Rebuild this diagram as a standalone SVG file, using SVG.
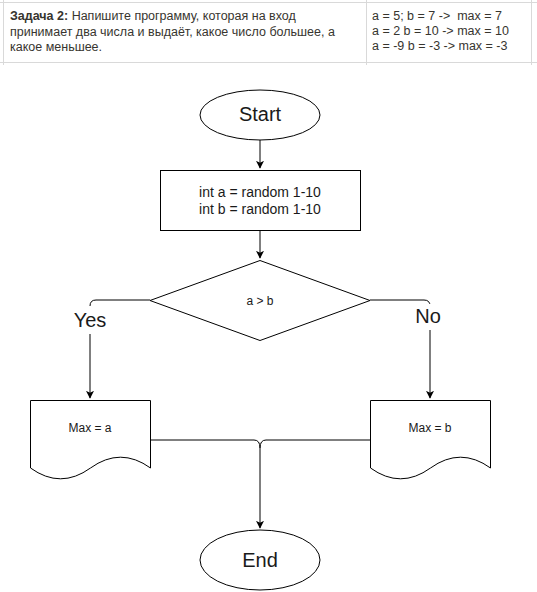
<svg xmlns="http://www.w3.org/2000/svg" width="537" height="592" viewBox="0 0 537 592">
<style>
.tbl{stroke:#d9d9d9;stroke-width:1;fill:none}
.ht{font-family:"Liberation Sans",Arial,sans-serif;font-size:12.5px;fill:#37352f}
.shape{fill:#ffffff;stroke:#000000;stroke-width:1}
.conn{fill:none;stroke:#000000;stroke-width:1}
.t{font-family:"Liberation Sans",Arial,sans-serif;fill:#1a1a1a;text-anchor:middle}
.lbl{fill:#ffffff;stroke:none}
</style>
<defs>
<marker id="arr" viewBox="0 0 10 10" refX="9" refY="5" markerWidth="8" markerHeight="8" markerUnits="userSpaceOnUse" orient="auto">
<path d="M0,0 L10,5 L0,10 L2.5,5 Z" fill="#000"/>
</marker>
</defs>
<rect width="537" height="592" fill="#ffffff"/>
<g id="header">
<line class="tbl" x1="0" y1="2.5" x2="537" y2="2.5"/>
<line class="tbl" x1="0" y1="62.5" x2="537" y2="62.5"/>
<line class="tbl" x1="3.5" y1="0" x2="3.5" y2="65"/>
<line class="tbl" x1="366.5" y1="0" x2="366.5" y2="65"/>
<line class="tbl" x1="531.5" y1="0" x2="531.5" y2="65"/>
<text class="ht" x="10" y="20"><tspan font-weight="bold">Задача 2:</tspan> Напишите программу, которая на вход</text>
<text class="ht" x="10" y="36">принимает два числа и выдаёт, какое число большее, а</text>
<text class="ht" x="10" y="51">какое меньшее.</text>
<text class="ht" x="372" y="20">a = 5; b = 7 -&gt;&#160; max = 7</text>
<text class="ht" x="372" y="35">a = 2 b = 10 -&gt; max = 10</text>
<text class="ht" x="372" y="50">a = -9 b = -3 -&gt; max = -3</text>
</g>
<g id="connectors">
<path class="conn" d="M260,140 V168" marker-end="url(#arr)"/>
<path class="conn" d="M260,230 V258" marker-end="url(#arr)"/>
<path class="conn" d="M150,300 H96 Q90,300 90,306 V398" marker-end="url(#arr)"/>
<rect class="lbl" x="70" y="306" width="40" height="28"/>
<text class="t" x="90" y="327" font-size="20">Yes</text>
<path class="conn" d="M370,300 H424 Q430,300 430,306 V398" marker-end="url(#arr)"/>
<rect class="lbl" x="412" y="304" width="36" height="26"/>
<text class="t" x="428" y="323" font-size="20">No</text>
<path class="conn" d="M150,440 H254 Q260,440 260,448 V528" marker-end="url(#arr)"/>
<path class="conn" d="M370,440 H266 Q260,440 260,448"/>
</g>
<g id="start">
<ellipse class="shape" cx="260" cy="115" rx="60" ry="25"/>
<text class="t" x="260" y="121" font-size="20">Start</text>
</g>
<g id="init">
<rect class="shape" x="160.5" y="170.5" width="200" height="60"/>
<text class="t" x="260" y="197" font-size="14">int a = random 1-10</text>
<text class="t" x="260" y="214" font-size="14">int b = random 1-10</text>
</g>
<g id="decision">
<polygon class="shape" points="260,260.5 370,300.5 260,340.5 150,300.5"/>
<text class="t" x="260" y="305" font-size="12">a &gt; b</text>
</g>
<g id="maxa">
<path class="shape" d="M30.5,400.5 H150.5 V468 Q120.5,446.4 90.5,468 Q60.5,489.6 30.5,468 Z"/>
<text class="t" x="90" y="432" font-size="12">Max = a</text>
</g>
<g id="maxb">
<path class="shape" d="M370.5,400.5 H490.5 V468 Q460.5,446.4 430.5,468 Q400.5,489.6 370.5,468 Z"/>
<text class="t" x="430" y="432" font-size="12">Max = b</text>
</g>
<g id="end">
<ellipse class="shape" cx="260" cy="560" rx="60" ry="30"/>
<text class="t" x="260" y="567" font-size="20">End</text>
</g>
</svg>
